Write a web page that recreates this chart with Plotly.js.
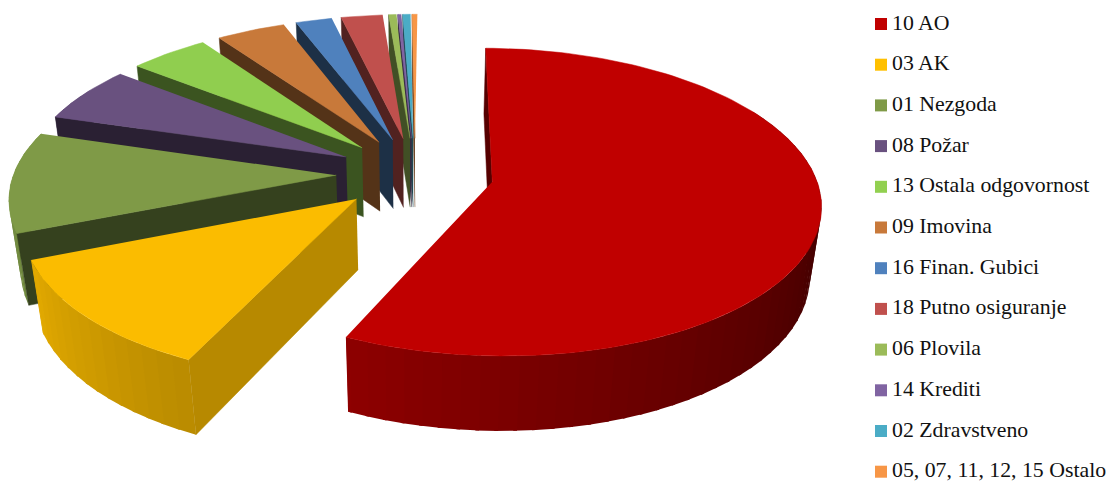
<!DOCTYPE html>
<html>
<head>
<meta charset="utf-8">
<script src="https://cdn.plot.ly/plotly-3.0.1.min.js"></script>
<style>html,body{margin:0;padding:0;background:#fff}#chart{width:1112px;height:482px}</style>
</head>
<body>
<div id="chart"></div>
<script>
// Premium share by insurance class, clockwise from the top of the pie.
const categories = ["10 AO","03 AK","01 Nezgoda","08 Požar","13 Ostala odgovornost","09 Imovina","16 Finan. Gubici","18 Putno osiguranje","06 Plovila","14 Krediti","02 Zdravstveno","05, 07, 11, 12, 15 Ostalo"];
const shares = [56.85,11.95,10.7,6.0,4.6,4.0,2.1,2.4,0.45,0.2,0.45,0.3];
const colors = ["#C00000","#FBBC00","#7F9A47","#69517F","#90CE4F","#C8793A","#4F81BD","#C0504D","#9BBB59","#8064A2","#4BACC6","#F79646"];
const swatches = ["#C00000","#FFC000","#7F9A47","#69517F","#92D050","#C8793A","#4F81BD","#C0504D","#9BBB59","#8064A2","#4BACC6","#F79646"];
const wallShade = [0.45,0.73,0.42,0.40,0.41,0.42,0.37,0.42,0.42,0.42,0.42,0.42];

// Exploded, extruded pie seen through a simple camera.
const cam = {cx:415, cy:173.5, A:322.5, B:149, C:72, k:0.132, m:0.029};
const explode = 0.244, startDeg = 0.5;

function project(X, Y, Z) {
  const w = 1 - cam.k*Y + cam.m*Z;
  return [cam.cx + cam.A*X/w, cam.cy + (cam.B*Y + cam.C*Z)/w];
}
function rimPoint(deg, ox, oy, Z) {
  const r = deg*Math.PI/180;
  return project(ox + Math.sin(r), oy - Math.cos(r), Z);
}
function mix(hex, f) {
  const n = parseInt(hex.slice(1),16);
  return `rgb(${Math.round((n>>16&255)*f)},${Math.round((n>>8&255)*f)},${Math.round((n&255)*f)})`;
}
function face(points, color, stroke) {
  return {type:"scatter", mode:"lines", x:points.map(p=>p[0]), y:points.map(p=>p[1]),
    fill:"toself", fillcolor:color, line:{color:color,width:stroke}, hoverinfo:"skip", showlegend:false};
}

const total = shares.reduce((a,b)=>a+b,0);
let cursor = startDeg;
const slices = shares.map((v,i)=>{
  const a0 = cursor, a1 = cursor + v/total*360;
  cursor = a1;
  const mid = (a0+a1)/2*Math.PI/180;
  return {i, a0, a1, ox:explode*Math.sin(mid), oy:-explode*Math.cos(mid)};
});

// Painted far to near: small rear slices first, the red slice last.
const order = slices.slice(1).reverse().concat([slices[0]]);
const traces = [];
order.forEach(s=>{
  const c = colors[s.i];
  const stepDeg = 3, overlap = 0.6;
  for (let a=s.a0; a<s.a1; a+=stepDeg) {
    const b = Math.min(a+stepDeg+overlap, s.a1), m = a+stepDeg/2;
    // The rim faces away from the viewer along the rear of the pie.
    if (m > 300 || m < 60) continue;
    const shade = Math.min(0.9, Math.max(0.3, 0.3+(m-90)*0.0038));
    traces.push(face([rimPoint(a,s.ox,s.oy,0), rimPoint(b,s.ox,s.oy,0), rimPoint(b,s.ox,s.oy,1), rimPoint(a,s.ox,s.oy,1)], mix(c,shade), 0));
  }
  traces.push(face([project(s.ox,s.oy,0), rimPoint(s.a0,s.ox,s.oy,0), rimPoint(s.a0,s.ox,s.oy,1), project(s.ox,s.oy,1)], mix(c,wallShade[s.i]), 0.5));
  const top = [project(s.ox,s.oy,0)];
  for (let a=s.a0; a<s.a1; a+=1.5) top.push(rimPoint(a,s.ox,s.oy,0));
  top.push(rimPoint(s.a1,s.ox,s.oy,0));
  traces.push(face(top,c,0.5));
});

// Key on the right: a square and a label per class.
const keyX = 881, labelX = 892, keyTop = 24, keyStep = 40.7;
traces.push({type:"scatter", mode:"markers", hoverinfo:"skip", showlegend:false,
  x:categories.map(()=>keyX), y:categories.map((_,i)=>keyTop+i*keyStep), text:categories,
  marker:{symbol:"square", size:12, color:swatches, line:{width:0}}});
const annotations = categories.map((name,i)=>({
  x:labelX, y:keyTop+i*keyStep, xref:"x", yref:"y", text:name, showarrow:false,
  xanchor:"left", yanchor:"middle", xshift:-1, yshift:1.5, align:"left", borderpad:0,
  font:{family:"Liberation Serif",size:21.8,color:"#111"}}));

Plotly.newPlot("chart", traces, {
  width:1112, height:482, paper_bgcolor:"#fff", plot_bgcolor:"#fff",
  margin:{l:0,r:0,t:0,b:0}, showlegend:false, annotations,
  xaxis:{range:[0,1112],visible:false,fixedrange:true},
  yaxis:{range:[482,0],visible:false,fixedrange:true}
},{staticPlot:true,displayModeBar:false});
</script>
</body>
</html>
